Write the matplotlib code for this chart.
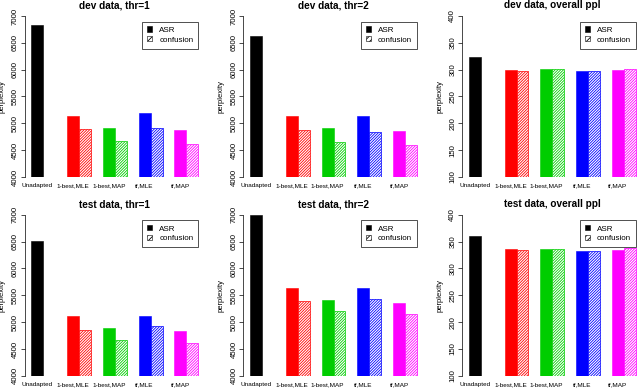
import numpy as np
import matplotlib
matplotlib.use("Agg")
import matplotlib.pyplot as plt
from matplotlib.patches import Patch

plt.rcParams['font.family'] = ['Liberation Sans', 'DejaVu Sans']
plt.rcParams['hatch.linewidth'] = 0.6

# data
categories = ["Unadapted", "1-best,MLE", "1-best,MAP", "tf,MLE", "tf,MAP"]
colors = ["black", "#FF0000", "#00CD00", "#0000FF", "#FF00FF"]

titles = ["dev data, thr=1", "dev data, thr=2", "dev data, overall ppl",
          "test data, thr=1", "test data, thr=2", "test data, overall ppl"]

# ASR values (one per category), confusion values (none for Unadapted)
dev_thr1_asr = [6830, 5145, 4920, 5190, 4870]
dev_thr1_conf = [None, 4895, 4680, 4910, 4620]
dev_thr2_asr = [6630, 5130, 4910, 5130, 4850]
dev_thr2_conf = [None, 4880, 4660, 4830, 4600]
dev_all_asr = [323, 300, 301, 298, 300]
dev_all_conf = [None, 298, 302, 297, 302]
test_thr1_asr = [6510, 5110, 4890, 5110, 4840]
test_thr1_conf = [None, 4860, 4660, 4920, 4620]
test_thr2_asr = [7000, 5640, 5420, 5630, 5360]
test_thr2_conf = [None, 5390, 5210, 5430, 5150]
test_all_asr = [361, 335.5, 336, 333, 335]
test_all_conf = [None, 333.5, 336.5, 332.5, 338.5]

asr_sets = [dev_thr1_asr, dev_thr2_asr, dev_all_asr,
            test_thr1_asr, test_thr2_asr, test_all_asr]
conf_sets = [dev_thr1_conf, dev_thr2_conf, dev_all_conf,
             test_thr1_conf, test_thr2_conf, test_all_conf]
ylims = [(4000, 7000), (4000, 7000), (100, 400),
         (4000, 7000), (4000, 7000), (100, 400)]
ysteps = [500, 500, 50, 500, 500, 50]

W, H = 640, 388
fig = plt.figure(figsize=(6.4, 3.88), dpi=100)

col_left = [24.5, 243.3, 462.1]
row_top = [16.0, 214.8]
ax_w, ax_h = 180.5, 161.0
HATCH = "////////////"

for i in range(6):
    r, c = divmod(i, 3)
    left = col_left[c] / W
    bottom = 1 - (row_top[r] + ax_h) / H
    ax = fig.add_axes([left, bottom, ax_w / W, ax_h / H])
    lo, hi = ylims[i]

    for k in range(5):
        x0 = 1 + 3 * k
        ax.bar(x0 + 0.5, asr_sets[i][k] - lo, bottom=lo, width=1.0,
               color=colors[k], edgecolor=colors[k], linewidth=0.4)
        if conf_sets[i][k] is not None:
            ax.bar(x0 + 1.5, conf_sets[i][k] - lo, bottom=lo, width=1.0,
                   facecolor="white", edgecolor=colors[k], hatch=HATCH,
                   linewidth=0.5)

    ax.set_xlim(0.44, 15.56)
    ax.set_ylim(lo, hi)
    ax.set_yticks(np.arange(lo, hi + 1, ysteps[i]))
    ax.set_xticks([1.5 + 3 * k for k in range(5)])
    ax.set_xticklabels(categories, fontsize=4.6)
    ax.tick_params(axis='x', length=0, pad=4.5)
    ax.tick_params(axis='y', labelsize=5.6, labelrotation=90, length=3,
                   width=0.5, pad=1.2)
    for lab in ax.get_yticklabels():
        lab.set_va('center')
    for s in ["top", "right", "bottom"]:
        ax.spines[s].set_visible(False)
    ax.spines["left"].set_linewidth(0.5)
    ax.set_ylabel("perplexity", fontsize=5.5)
    ax.yaxis.set_label_coords(-0.105, 0.5)
    ax.set_title(titles[i], fontsize=7.2, fontweight='bold', pad=5.5)

    handles = [Patch(facecolor="black", edgecolor="black", linewidth=0.4),
               Patch(facecolor="white", edgecolor="black", hatch="//////",
                     linewidth=0.4)]
    leg = ax.legend(handles, ["ASR", "confusion"], loc="upper right",
                    bbox_to_anchor=(0.985, 0.99), fontsize=5.8,
                    handlelength=0.6, handleheight=0.6, handletextpad=0.9,
                    labelspacing=0.3, borderpad=0.6, fancybox=False,
                    framealpha=1, edgecolor="#333333")
    leg.get_frame().set_linewidth(0.6)

fig.savefig("out.png", dpi=100)
